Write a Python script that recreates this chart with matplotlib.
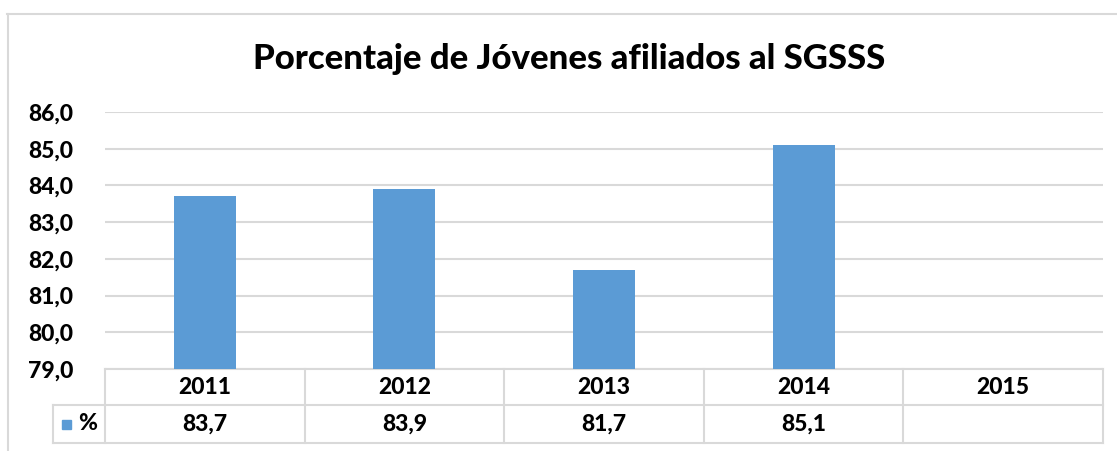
import matplotlib
matplotlib.use("Agg")
import matplotlib.pyplot as plt
import matplotlib.transforms as mtransforms
from matplotlib.patches import Rectangle
from matplotlib.lines import Line2D

plt.rcParams['font.family'] = ['Lato', 'DejaVu Sans']

years = ["2011", "2012", "2013", "2014", "2015"]
pct = [83.7, 83.9, 81.7, 85.1, None]
pct_labels = ["83,7", "83,9", "81,7", "85,1", ""]
yticks = [79, 80, 81, 82, 83, 84, 85, 86]

BAR = "#5B9BD5"
GRID = "#D9D9D9"
WEIGHT = 900
FS = 16.5

W, H = 1117, 451
fig = plt.figure(figsize=(W / 100, H / 100), dpi=100)

# chart frame (cropped on right and bottom)
fig.add_artist(Line2D([7 / W, 1.0], [1 - 13.5 / H] * 2, color=GRID, lw=1.5))
fig.add_artist(Line2D([7.5 / W] * 2, [0, 1 - 13.5 / H], color=GRID, lw=1.5))

left, right, top, bottom = 105, 1103, 112, 369
ax = fig.add_axes([left / W, 1 - bottom / H, (right - left) / W, (bottom - top) / H])

x = [i + 0.5 for i in range(len(years))]
heights = [v - 79 if v is not None else 0 for v in pct]
ax.bar(x, heights, bottom=79, width=0.31, color=BAR, zorder=3)

ax.set_xlim(0, len(years))
ax.set_ylim(79, 86)
ax.set_yticks(yticks)
ax.set_yticklabels([f"{t:.1f}".replace(".", ",") for t in yticks],
                   fontsize=FS, fontweight=WEIGHT)
ax.tick_params(axis='y', length=0, pad=23)
ax.set_xticks([])
ax.grid(axis='y', color=GRID, lw=1.5, zorder=0)
for s in ax.spines.values():
    s.set_visible(False)

fig.text(569 / W, 1 - 69 / H, "Porcentaje de Jóvenes afiliados al SGSSS",
         ha='center', va='baseline', fontsize=25, fontweight=WEIGHT)

# data table under the plot area
tr = mtransforms.blended_transform_factory(ax.transData, ax.transAxes)
ph = bottom - top
r0, r1, r2 = 0.0, -36 / ph, -74 / ph
n = len(years)
unit = (right - left) / n
leg_x = (53 - left) / unit
kw = dict(transform=tr, color=GRID, lw=1.5, clip_on=False)
ax.add_line(Line2D([0, n], [r0, r0], **kw))
ax.add_line(Line2D([leg_x, n], [r1, r1], **kw))
ax.add_line(Line2D([leg_x, n], [r2, r2], **kw))
ax.add_line(Line2D([leg_x, leg_x], [r1, r2], **kw))
for i in range(n + 1):
    ax.add_line(Line2D([i, i], [r0, r2], **kw))

for i, (yr, lab) in enumerate(zip(years, pct_labels)):
    ax.text(i + 0.5, (r0 + r1) / 2, yr, transform=tr, ha='center', va='center',
            fontsize=FS, fontweight=WEIGHT)
    ax.text(i + 0.5, (r1 + r2) / 2, lab, transform=tr, ha='center', va='center',
            fontsize=FS, fontweight=WEIGHT)

# legend key inside the table
ax.add_patch(Rectangle(((62 - left) / unit, (r1 + r2) / 2 - 4.5 / ph), 9 / unit, 9 / ph,
                       transform=tr, color=BAR, clip_on=False))
ax.text((78 - left) / unit, (r1 + r2) / 2, "%", transform=tr, ha='left', va='center',
        fontsize=FS, fontweight=WEIGHT)

fig.savefig("out.png", dpi=100)
